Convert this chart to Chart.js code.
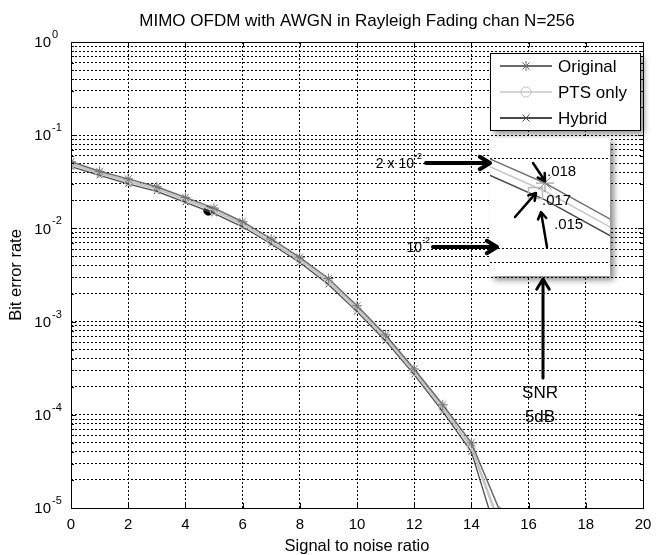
<!DOCTYPE html>
<html>
<head>
<meta charset="utf-8">
<script src="https://cdn.jsdelivr.net/npm/chart.js@4.4.1/dist/chart.umd.min.js"></script>
<style>
  body { margin: 0; background: #fff; }
  canvas { display: block; }
</style>
</head>
<body>
<canvas id="chart" width="658" height="555"></canvas>
<script>
const snr = [0, 1, 2, 3, 4, 5, 6, 7, 8, 9, 10, 11, 12, 13, 14, 15];
const original = [0.052, 0.041, 0.034, 0.028, 0.0215, 0.0165, 0.0118, 0.0077, 0.0049, 0.0029, 0.00148, 0.00072, 0.00031, 0.000128, 0.00005, 0.0000092];
const ptsOnly = [0.049, 0.039, 0.032, 0.0265, 0.0203, 0.0155, 0.0111, 0.0072, 0.0046, 0.0027, 0.00138, 0.00067, 0.00029, 0.000118, 0.000045, 0.0000065];
const hybrid = [0.046, 0.037, 0.030, 0.025, 0.019, 0.0145, 0.0104, 0.0068, 0.0043, 0.0025, 0.00128, 0.00062, 0.00027, 0.000108, 0.00004, 0.000004];
const dotPoint = [{ x: 4.8, y: 0.0155 }];
const xTicks = [0, 2, 4, 6, 8, 10, 12, 14, 16, 18, 20];
const yExponents = [-5, -4, -3, -2, -1, 0];
const insetLabels = ['.018', '.017', '.015'];

const FONT = '"Liberation Sans", Arial, sans-serif';

function pairs(ys) {
  return snr.map((x, i) => ({ x: x, y: ys[i] }));
}

function arrow(c, x1, y1, x2, y2, w, head) {
  const a = Math.atan2(y2 - y1, x2 - x1);
  c.save();
  c.strokeStyle = '#000';
  c.lineWidth = w;
  c.lineCap = 'round';
  c.lineJoin = 'round';
  c.beginPath();
  c.moveTo(x1, y1);
  c.lineTo(x2 - Math.cos(a) * 1.5, y2 - Math.sin(a) * 1.5);
  c.moveTo(x2 - Math.cos(a - 0.55) * head, y2 - Math.sin(a - 0.55) * head);
  c.lineTo(x2, y2);
  c.lineTo(x2 - Math.cos(a + 0.55) * head, y2 - Math.sin(a + 0.55) * head);
  c.stroke();
  c.restore();
}

function shadowBox(c, x, y, w, h) {
  c.save();
  c.shadowColor = 'rgba(0,0,0,0.45)';
  c.shadowBlur = 6;
  c.shadowOffsetX = 4;
  c.shadowOffsetY = 4;
  c.fillStyle = '#fff';
  c.fillRect(x, y, w, h);
  c.restore();
}

function drawMarker(c, style, x, y, r, color) {
  c.save();
  c.strokeStyle = color;
  c.lineWidth = 1;
  c.beginPath();
  if (style === 'star') {
    for (let k = 0; k < 4; k++) {
      const a = k * Math.PI / 4;
      c.moveTo(x - Math.cos(a) * r, y - Math.sin(a) * r);
      c.lineTo(x + Math.cos(a) * r, y + Math.sin(a) * r);
    }
  } else if (style === 'circle') {
    c.arc(x, y, r, 0, Math.PI * 2);
  } else {
    c.moveTo(x - r * 0.7, y - r * 0.7); c.lineTo(x + r * 0.7, y + r * 0.7);
    c.moveTo(x + r * 0.7, y - r * 0.7); c.lineTo(x - r * 0.7, y + r * 0.7);
  }
  c.stroke();
  c.restore();
}

const decorations = {
  id: 'decorations',
  afterDraw(chart) {
    const c = chart.ctx;
    const area = chart.chartArea;
    const xs = chart.scales.x;
    const ys = chart.scales.y;

    // axes box and inward ticks
    c.save();
    c.strokeStyle = '#000';
    c.lineWidth = 1;
    c.strokeRect(Math.round(area.left) + 0.5, Math.round(area.top) + 0.5,
      Math.round(area.right - area.left), Math.round(area.bottom - area.top));
    c.beginPath();
    xTicks.forEach(t => {
      const px = Math.round(xs.getPixelForValue(t)) + 0.5;
      c.moveTo(px, area.bottom); c.lineTo(px, area.bottom - 5);
      c.moveTo(px, area.top); c.lineTo(px, area.top + 5);
    });
    for (let e = -5; e <= 0; e++) {
      for (let m = 1; m <= 9; m++) {
        const v = m * Math.pow(10, e);
        if (v > 1) continue;
        const py = Math.round(ys.getPixelForValue(v)) + 0.5;
        const len = m === 1 ? 5 : 3;
        c.moveTo(area.left, py); c.lineTo(area.left + len, py);
        c.moveTo(area.right, py); c.lineTo(area.right - len, py);
      }
    }
    c.stroke();

    // tick labels
    c.fillStyle = '#000';
    c.font = '15px ' + FONT;
    c.textAlign = 'center';
    c.textBaseline = 'middle';
    xTicks.forEach(t => c.fillText(String(t), xs.getPixelForValue(t), area.bottom + 17));
    yExponents.forEach(e => {
      const py = ys.getPixelForValue(Math.pow(10, e));
      c.textAlign = 'right';
      c.font = '15px ' + FONT;
      c.fillText('10', 51, py + 1);
      c.textAlign = 'left';
      c.font = '11px ' + FONT;
      c.fillText(String(e), 52, py - 7);
    });

    // titles
    c.textAlign = 'center';
    c.font = '17px ' + FONT;
    c.fillText('MIMO OFDM with AWGN in Rayleigh Fading chan N=256', (area.left + area.right) / 2, 21);
    c.font = '16.5px ' + FONT;
    c.fillText('Signal to noise ratio', (area.left + area.right) / 2, 546);
    c.save();
    c.translate(16, (area.top + area.bottom) / 2);
    c.rotate(-Math.PI / 2);
    c.fillText('Bit error rate', 0, 0);
    c.restore();

    // legend
    const lg = { x: 490, y: 53, w: 150, h: 77 };
    shadowBox(c, lg.x, lg.y, lg.w, lg.h);
    c.strokeStyle = '#000';
    c.strokeRect(lg.x + 0.5, lg.y + 0.5, lg.w, lg.h);
    const entries = [
      { label: 'Original', color: '#6a6a6a', style: 'star', w: 2 },
      { label: 'PTS only', color: '#c4c4c4', style: 'circle', w: 1.5 },
      { label: 'Hybrid', color: '#4a4a4a', style: 'cross', w: 2 }
    ];
    entries.forEach((en, i) => {
      const y = 66 + i * 26;
      c.strokeStyle = en.color;
      c.lineWidth = en.w;
      c.beginPath(); c.moveTo(500, y); c.lineTo(552, y); c.stroke();
      drawMarker(c, en.style, 526, y, 5, en.color);
      c.fillStyle = '#000';
      c.textAlign = 'left';
      c.font = '17px ' + FONT;
      c.fillText(en.label, 558, y + 1);
    });

    // inset: zoomed view around SNR 5 dB
    const box = { x: 490, y: 138, w: 120, h: 138 };
    shadowBox(c, box.x, box.y, box.w, box.h);
    const ix = v => 545 + (v - 5) * 79;
    const iy = v => 158 + Math.log10(0.02 / v) * 300;
    c.save();
    c.beginPath();
    c.rect(box.x, box.y, box.w, box.h);
    c.clip();
    c.strokeStyle = '#000';
    c.lineWidth = 1;
    c.setLineDash([2, 2]);
    c.beginPath();
    [0.02, 0.01, 0.009].forEach(v => {
      const py = Math.round(iy(v)) + 0.5;
      c.moveTo(box.x, py); c.lineTo(box.x + box.w, py);
    });
    c.stroke();
    c.setLineDash([]);
    [[original, '#6a6a6a'], [ptsOnly, '#c4c4c4'], [hybrid, '#4a4a4a']].forEach(([ser, col]) => {
      c.strokeStyle = col;
      c.lineWidth = 1.5;
      c.beginPath();
      snr.forEach((s, i) => {
        if (i === 0) c.moveTo(ix(s), iy(ser[i])); else c.lineTo(ix(s), iy(ser[i]));
      });
      c.stroke();
    });
    c.strokeStyle = '#bbb';
    c.strokeRect(ix(5) - 16.5, iy(original[5]) + 4.5, 14, 11);
    drawMarker(c, 'star', ix(5), iy(original[5]), 9, '#888');
    c.restore();

    // inset labels and arrows
    c.fillStyle = '#000';
    c.textAlign = 'left';
    c.font = '15px ' + FONT;
    c.fillText(insetLabels[0], 547, 172);
    c.fillText(insetLabels[1], 542, 201);
    c.fillText(insetLabels[2], 554, 225);
    arrow(c, 533, 163, 545, 181, 2.5, 8);
    arrow(c, 515, 217, 536, 193, 2.5, 8);
    arrow(c, 547, 247, 541, 212, 2.5, 8);

    // outside annotations
    c.font = '14px ' + FONT;
    c.textAlign = 'right';
    c.fillText('2 x 10', 414, 164);
    c.fillText('10', 422, 248);
    c.font = '9px ' + FONT;
    c.textAlign = 'left';
    c.fillText('-2', 414, 157);
    c.fillText('-2', 422, 241);
    arrow(c, 426, 163, 490, 163, 4, 12);
    arrow(c, 433, 247, 497, 247, 4, 12);
    arrow(c, 543, 378, 543, 279, 3, 12);
    c.font = '17px ' + FONT;
    c.textAlign = 'center';
    c.fillText('SNR', 540, 393);
    c.fillText('5dB', 540, 417);
    c.restore();
  }
};

new Chart(document.getElementById('chart'), {
  type: 'line',
  data: {
    datasets: [
      {
        label: 'Original', data: pairs(original),
        borderColor: '#6a6a6a', borderWidth: 1.5,
        pointStyle: 'star', pointRadius: 5, pointBorderColor: '#777', pointBorderWidth: 1
      },
      {
        label: 'PTS only', data: pairs(ptsOnly),
        borderColor: '#c4c4c4', borderWidth: 2.5,
        pointStyle: 'circle', pointRadius: 4, pointBorderColor: '#c8c8c8',
        pointBackgroundColor: 'rgba(255,255,255,0)', pointBorderWidth: 1
      },
      {
        label: 'Hybrid', data: pairs(hybrid),
        borderColor: '#4a4a4a', borderWidth: 1.3,
        pointStyle: 'crossRot', pointRadius: 4, pointBorderColor: '#333', pointBorderWidth: 1
      },
      {
        label: 'dot', data: dotPoint, showLine: false,
        pointStyle: 'circle', pointRadius: 4.5, pointBackgroundColor: '#000', pointBorderColor: '#000'
      }
    ]
  },
  options: {
    responsive: false,
    animation: false,
    layout: { padding: { top: 42, right: 15, left: 0, bottom: 0 } },
    plugins: {
      legend: { display: false },
      title: { display: false },
      tooltip: { enabled: false }
    },
    scales: {
      x: {
        type: 'linear', min: 0, max: 20,
        afterFit: s => { s.height = 47; },
        afterBuildTicks: s => { s.ticks = xTicks.map(v => ({ value: v })); },
        ticks: { display: false },
        border: { display: false, dash: [2, 2] },
        grid: { color: '#000', lineWidth: 1, drawTicks: false }
      },
      y: {
        type: 'logarithmic', min: 1e-5, max: 1,
        afterFit: s => { s.width = 71; },
        afterBuildTicks: s => {
          const t = [];
          yExponents.forEach(e => {
            for (let m = 1; m <= 9; m++) {
              const v = m * Math.pow(10, e);
              if (v <= 1) t.push({ value: v });
            }
          });
          s.ticks = t;
        },
        ticks: { display: false },
        border: { display: false, dash: [2, 2] },
        grid: { color: '#000', lineWidth: 1, drawTicks: false }
      }
    }
  },
  plugins: [decorations]
});
</script>
</body>
</html>
